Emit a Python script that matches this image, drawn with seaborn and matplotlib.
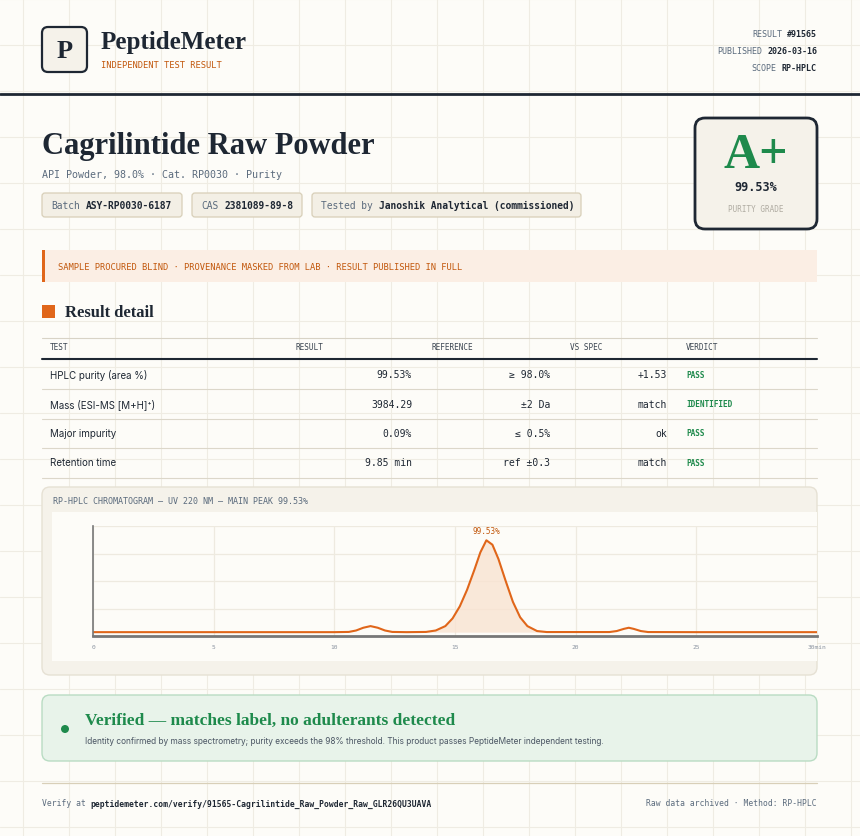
import matplotlib
matplotlib.use("Agg")
import matplotlib.pyplot as plt
from matplotlib.patches import FancyBboxPatch, Rectangle, Circle
import seaborn as sns
import pandas as pd

sns.set_theme(style="white")
plt.rcParams['font.family'] = ['DejaVu Sans']

# ---------------- data ----------------
result_meta_labels = ["RESULT", "PUBLISHED", "SCOPE"]
result_meta_values = ["#91565", "2026-03-16", "RP-HPLC"]
chips_labels = ["Batch", "CAS", "Tested by"]
chips_values = ["ASY-RP0030-6187", "2381089-89-8", "Janoshik Analytical (commissioned)"]
table_headers = ["TEST", "RESULT", "REFERENCE", "VS SPEC", "VERDICT"]
tests = ["HPLC purity (area %)", "Mass (ESI-MS [M+H]\u207a)", "Major impurity", "Retention time"]
results = ["99.53%", "3984.29", "0.09%", "9.85 min"]
references = ["\u2265 98.0%", "\u00b12 Da", "\u2264 0.5%", "ref \u00b10.3"]
vs_spec = ["+1.53", "match", "ok", "match"]
verdicts = ["PASS", "IDENTIFIED", "PASS", "PASS"]
chrom_time = [0, 5, 10, 10.6, 10.9, 11.2, 11.5, 11.8, 12.1, 12.4, 13, 13.8, 14.2, 14.6, 14.9, 15.2, 15.5,
              15.8, 16.05, 16.3, 16.55, 16.8, 17.1, 17.4, 17.7, 18.0, 18.4, 18.8, 21.4, 21.7, 22.0, 22.2,
              22.4, 22.7, 23.0, 25, 30]
chrom_signal = [0.035, 0.035, 0.035, 0.037, 0.05, 0.075, 0.09, 0.075, 0.05, 0.037, 0.035, 0.037, 0.05,
                0.09, 0.16, 0.27, 0.42, 0.60, 0.76, 0.87, 0.83, 0.70, 0.50, 0.31, 0.17, 0.09, 0.045,
                0.036, 0.036, 0.045, 0.065, 0.075, 0.065, 0.045, 0.036, 0.035, 0.035]
x_ticks = [0, 5, 10, 15, 20, 25, 30]
x_tick_labels = ["0", "5", "10", "15", "20", "25", "30min"]
main_peak_label = "99.53%"

# ---------------- helpers ----------------
W, H = 860, 837
fig = plt.figure(figsize=(8.6, 8.37), dpi=100)
fig.patch.set_facecolor("#fdfcf8")
bg = fig.add_axes([0, 0, 1, 1])
bg.set_xlim(0, W); bg.set_ylim(H, 0); bg.axis("off")

MONO = "DejaVu Sans Mono"
SERIF = "Liberation Serif"
SANS = "Inter"
DARK = "#1e2733"
GRAY = "#5b6b7d"
ORANGE = "#c2570c"
GREEN = "#1e8a4c"

def cw(size):
    return size * 100 / 72 * 0.602

def t(x, y, s, size=7, family=MONO, color=DARK, weight="normal", ha="left", va="center", **kw):
    bg.text(x, y, s, fontsize=size, family=family, color=color, weight=weight, ha=ha, va=va, **kw)

def rbox(x0, y0, x1, y1, fc, ec, lw=1, r=4, z=1):
    bg.add_patch(FancyBboxPatch((x0, y0), x1 - x0, y1 - y0, boxstyle=f"round,pad=0,rounding_size={r}",
                                fc=fc, ec=ec, lw=lw, zorder=z))

# background grid
for gx in range(23, W, 46):
    bg.plot([gx, gx], [0, H], color="#efece3", lw=0.8, zorder=0)
for gy in range(0, H, 46):
    bg.plot([0, W], [gy, gy], color="#efece3", lw=0.8, zorder=0)

# header
rbox(42, 28, 87, 73, "#f5f2ea", DARK, lw=1.6, r=6, z=2)
t(64.5, 51, "P", size=19, family=SERIF, weight="bold", ha="center", zorder=3)
t(101, 42, "PeptideMeter", size=18, family=SERIF, weight="bold")
t(101, 65, "INDEPENDENT TEST RESULT", size=6.3, color=ORANGE)
for i, (lab, val) in enumerate(zip(result_meta_labels, result_meta_values)):
    y = 34 + 17 * i
    t(817, y, val, size=6, weight="bold", ha="right")
    t(817 - cw(6) * (len(val) + 1), y, lab, size=6, color=GRAY, ha="right")
bg.plot([0, W], [95, 95], color=DARK, lw=2, zorder=2)

# title block
t(42, 146, "Cagrilintide Raw Powder", size=22, family=SERIF, weight="bold")
t(42, 175, "API Powder, 98.0% \u00b7 Cat. RP0030 \u00b7 Purity", size=7.2, color=GRAY)
chip_x = [(42, 182), (192, 302), (312, 581)]
for (x0, x1), lab, val in zip(chip_x, chips_labels, chips_values):
    rbox(x0, 194, x1, 218, "#f3efe5", "#d8cfb8", lw=0.9, r=3, z=2)
    t(x0 + 9, 206, lab, size=6.9, color=GRAY, zorder=3)
    t(x0 + 9 + cw(6.9) * (len(lab) + 1), 206, val, size=6.9, weight="bold", zorder=3)

# grade box
rbox(695, 119, 817, 230, "#f5f2ea", DARK, lw=2, r=10, z=2)
t(756, 156, "A+", size=36, family=SERIF, weight="bold", color=GREEN, ha="center", zorder=3)
t(756, 187, "99.53%", size=8.5, weight="bold", ha="center", zorder=3)
t(756, 209, "PURITY GRADE", size=5.5, color="#b0aca2", ha="center", zorder=3)

# banner
bg.add_patch(Rectangle((42, 251), 775, 32, fc="#fbeee4", ec="none", zorder=1))
bg.add_patch(Rectangle((42, 251), 3, 32, fc="#e0661a", ec="none", zorder=2))
t(58, 267, "SAMPLE PROCURED BLIND \u00b7 PROVENANCE MASKED FROM LAB \u00b7 RESULT PUBLISHED IN FULL",
  size=6.3, color=ORANGE)

# result detail
bg.add_patch(Rectangle((42, 306), 13, 13, fc="#e0661a", ec="none", zorder=2))
t(65, 313, "Result detail", size=12, family=SERIF, weight="bold")
hx = [50, 296, 431, 570, 686]
for x, h in zip(hx, table_headers):
    t(x, 347, h, size=5.6, color="#3c4652")
bg.plot([42, 817], [339, 339], color="#d8d3c6", lw=0.8)
bg.plot([42, 817], [360, 360], color=DARK, lw=1.5)
for i in range(4):
    y = 375 + 29.5 * i
    t(50, y, tests[i], size=7, family=SANS)
    t(412, y, results[i], size=7, ha="right")
    t(550, y, references[i], size=7, ha="right")
    t(667, y, vs_spec[i], size=7, ha="right")
    t(686, y, verdicts[i], size=5.6, weight="bold", color=GREEN)
    bg.plot([42, 817], [y + 15, y + 15], color="#dcd7ca", lw=0.8)

# chromatogram panel
rbox(42, 488, 817, 676, "#f5f2ea", "#e6e1d4", lw=1, r=8, z=1)
t(53, 502, "RP-HPLC CHROMATOGRAM \u2014 UV 220 NM \u2014 MAIN PEAK 99.53%", size=6, color=GRAY)
bg.add_patch(Rectangle((52, 513), 765, 149, fc="#fdfcf8", ec="none", zorder=2))

ax = fig.add_axes([93 / W, 1 - 637 / H, (817 - 93) / W, (637 - 527) / H], zorder=5)
ax.set_facecolor("none")
df = pd.DataFrame({"t": chrom_time, "s": chrom_signal})
ax.fill_between(df["t"], 0.035, df["s"], where=(df["t"] > 13.7) & (df["t"] < 19), color="#f9e3d2", alpha=0.8, lw=0)
sns.lineplot(data=df, x="t", y="s", ax=ax, color="#e0661a", lw=1.5)
ax.set_xlim(0, 30); ax.set_ylim(0, 1)
ax.set_xticks(x_ticks)
ax.set_xticklabels(x_tick_labels, fontsize=4.5, family=MONO, color="#8a93a0")
ax.set_yticks([0.25, 0.5, 0.75, 1.0]); ax.set_yticklabels([])
ax.tick_params(length=0, pad=6)
ax.grid(True, color="#eeeae0", lw=0.9)
ax.set_xlabel(""); ax.set_ylabel("")
for sp in ["top", "right"]:
    ax.spines[sp].set_visible(False)
ax.spines["left"].set_color("#777"); ax.spines["left"].set_lw(1.2)
ax.spines["bottom"].set_color("#777"); ax.spines["bottom"].set_lw(2)
pk = chrom_signal.index(max(chrom_signal))
ax.annotate(main_peak_label, (chrom_time[pk], chrom_signal[pk]), xytext=(0, 4), textcoords="offset points",
            ha="center", va="bottom", fontsize=5.5, family=MONO, color=ORANGE)

# verified box
rbox(42, 696, 817, 762, "#e8f3ea", "#b9dcc3", lw=1, r=8, z=1)
bg.add_patch(Circle((65, 730), 4, fc=GREEN, ec="none", zorder=3))
t(85, 721, "Verified \u2014 matches label, no adulterants detected", size=12.5, family=SERIF, weight="bold", color=GREEN)
t(85, 742, "Identity confirmed by mass spectrometry; purity exceeds the 98% threshold. This product passes PeptideMeter independent testing.",
  size=6, family=SANS, color="#4a5563")

# footer
bg.plot([42, 817], [784, 784], color="#d8cfb8", lw=0.9)
t(42, 804, "Verify at", size=5.8, color=GRAY)
t(42 + cw(5.8) * 10, 804, "peptidemeter.com/verify/91565-Cagrilintide_Raw_Powder_Raw_GLR26QU3UAVA", size=5.8, weight="bold")
t(817, 804, "Raw data archived \u00b7 Method: RP-HPLC", size=5.8, color=GRAY, ha="right")

fig.savefig("out.png", dpi=100, facecolor=fig.get_facecolor())
